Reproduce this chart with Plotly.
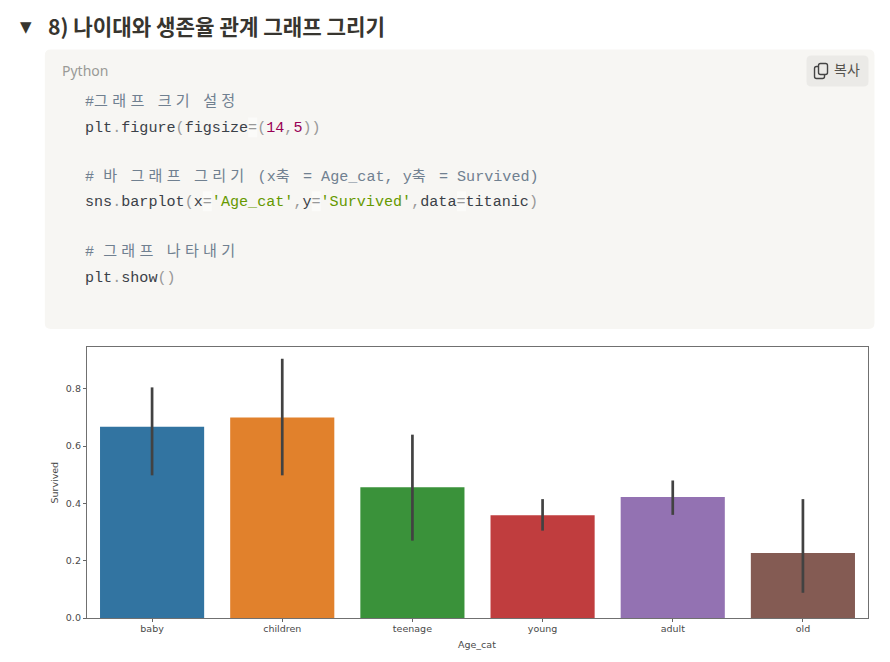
import re

import plotly.graph_objects as go

age_cat = ["baby", "children", "teenage", "young", "adult", "old"]
survived = [0.668, 0.70, 0.456, 0.359, 0.422, 0.227]
ci_low = [0.498, 0.498, 0.27, 0.305, 0.36, 0.088]
ci_high = [0.805, 0.905, 0.64, 0.415, 0.48, 0.415]
bar_colors = ["#3274a1", "#e1812c", "#3a923a", "#c03d3e", "#9372b2", "#845b53"]
y_ticks = [0.0, 0.2, 0.4, 0.6, 0.8]

heading = "8) 나이대와 생존율 관계 그래프 그리기"

COMMENT = "#708090"
PUNCT = "#999999"
TEXT = "#3b4148"
NUMBER = "#990055"
STRING = "#669900"


def span(text, color):
    # hangul takes two mono cells in the reference, so space it out
    text = re.sub(
        "([가-힣]+)",
        r'<span style="letter-spacing:4.3px">\1</span>',
        text,
    )
    return f'<span style="color:{color}">{text}</span>'


code_lines = [
    (102, span("#그래프 크기 설정", COMMENT)),
    (128, span("plt", TEXT) + span(".", PUNCT) + span("figure", TEXT) + span("(", PUNCT)
     + span("figsize", TEXT) + span("=(", PUNCT) + span("14", NUMBER) + span(",", PUNCT)
     + span("5", NUMBER) + span("))", PUNCT)),
    (177, span("# 바 그래프 그리기 (x축 = Age_cat, y축 = Survived)", COMMENT)),
    (202, span("sns", TEXT) + span(".", PUNCT) + span("barplot", TEXT) + span("(", PUNCT)
     + span("x", TEXT) + span("=", PUNCT) + span("'Age_cat'", STRING) + span(",", PUNCT)
     + span("y", TEXT) + span("=", PUNCT) + span("'Survived'", STRING) + span(",", PUNCT)
     + span("data", TEXT) + span("=", PUNCT) + span("titanic", TEXT) + span(")", PUNCT)),
    (252, span("# 그래프 나타내기", COMMENT)),
    (278, span("plt", TEXT) + span(".", PUNCT) + span("show", TEXT) + span("()", PUNCT)),
]
# (line y, column) of the "=" signs that have a pale box behind them
equals_boxes = [(127, 18), (201, 13), (201, 25), (201, 41)]

# the page body keeps its 8px margin, so the figure starts at (8, 8)
W, H = 874, 646
AX_L, AX_R, AX_T, AX_B = 87.2, 868.5, 347, 618.5
m_l, m_r, m_t, m_b = AX_L - 8, W + 8 - AX_R, AX_T - 8, H + 8 - AX_B
plot_w, plot_h = AX_R - AX_L, AX_B - AX_T
CODE_X, CELL = 85, 9.08


def px_x(x):
    return (x - AX_L) / plot_w


def px_y(y):
    return (AX_B - y) / plot_h


def round_rect(x0, y0, x1, y1, r):
    a, b, c, d = px_x(x0), px_x(x1), px_y(y0), px_y(y1)
    rx, ry = r / plot_w, r / plot_h
    return (
        f"M {a + rx} {c} L {b - rx} {c} Q {b} {c} {b} {c - ry} "
        f"L {b} {d + ry} Q {b} {d} {b - rx} {d} "
        f"L {a + rx} {d} Q {a} {d} {a} {d + ry} "
        f"L {a} {c - ry} Q {a} {c} {a + rx} {c} Z"
    )


def label(x, y, text, size, color, family="Noto Sans CJK KR", **kw):
    return dict(
        x=px_x(x), y=px_y(y), xref="paper", yref="paper",
        text=text, showarrow=False, xanchor="left", yanchor="middle",
        borderpad=0, borderwidth=0,
        font=dict(size=size, color=color, family=family), **kw,
    )


def axis_title(x, y, text, angle):
    return dict(
        x=px_x(x), y=px_y(y), xref="paper", yref="paper",
        text=text, showarrow=False, xanchor="center", yanchor="middle",
        borderpad=0, borderwidth=0, textangle=angle,
        font=dict(size=9.5, color="#4a4a4a", family="DejaVu Sans"),
    )


fig = go.Figure(
    go.Bar(
        x=age_cat,
        y=survived,
        width=0.8,
        marker=dict(color=bar_colors, line_width=0),
        error_y=dict(
            type="data",
            symmetric=False,
            array=[h - v for h, v in zip(ci_high, survived)],
            arrayminus=[v - l for l, v in zip(ci_low, survived)],
            width=0,
            thickness=2.7,
            color="#424242",
        ),
    )
)

shapes = [
    dict(type="path", xref="paper", yref="paper", path=round_rect(45, 49, 875, 329, 6),
         fillcolor="#f7f6f3", line_width=0, layer="below"),
    dict(type="path", xref="paper", yref="paper", path=round_rect(807, 55, 869, 86, 5),
         fillcolor="#ebeae7", line_width=0, layer="below"),
    # copy icon
    dict(type="path", xref="paper", yref="paper",
         path=round_rect(815, 66, 825, 78, 2), fillcolor="rgba(0,0,0,0)",
         line=dict(color="#444444", width=1.4)),
    dict(type="path", xref="paper", yref="paper",
         path=round_rect(819, 63, 828, 74, 2), fillcolor="#ebeae7",
         line=dict(color="#444444", width=1.4)),
]
for line_y, col in equals_boxes:
    shapes.append(
        dict(type="rect", xref="paper", yref="paper",
             x0=px_x(CODE_X + col * CELL), x1=px_x(CODE_X + (col + 1) * CELL),
             y0=px_y(line_y + 10), y1=px_y(line_y - 10),
             fillcolor="rgba(255,255,255,0.5)", line_width=0, layer="below")
    )

annotations = [
    label(20, 26, "▼", 15, "#37352f", "DejaVu Sans"),
    label(48, 25, f"<b>{heading}</b>", 21.2, "#37352f"),
    label(62, 70, "Python", 14, "#9a9a97", "Noto Sans"),
    label(834, 68, "복사", 14, "#55534e"),
    axis_title(477.5, 645, "Age_cat", 0),
    axis_title(55, 483, "Survived", -90),
]
for y, line in code_lines:
    annotations.append(label(CODE_X, y, line, 15.1, TEXT, "Liberation Mono, Noto Sans CJK KR"))

fig.update_layout(
    width=W,
    height=H,
    margin=dict(l=m_l, r=m_r, t=m_t, b=m_b, pad=0),
    paper_bgcolor="white",
    plot_bgcolor="white",
    showlegend=False,
    shapes=shapes,
    annotations=annotations,
    font=dict(family="DejaVu Sans", size=9.5, color="#4a4a4a"),
    xaxis=dict(
        range=[-0.5, 5.5],
        ticks="outside", ticklen=3, tickwidth=1, tickcolor="#666666",
        ticklabelstandoff=-2,
        showline=True, mirror=True, linecolor="#707070", linewidth=1.3,
        showgrid=False, zeroline=False, automargin=False,
    ),
    yaxis=dict(
        range=[0, 0.946],
        tickvals=y_ticks,
        ticktext=[f"{t:.1f}" for t in y_ticks],
        ticks="outside", ticklen=3, tickwidth=1, tickcolor="#666666",
        showline=True, mirror=True, linecolor="#707070", linewidth=1.3,
        showgrid=False, zeroline=False, automargin=False,
    ),
)

fig.write_html("out.html")
